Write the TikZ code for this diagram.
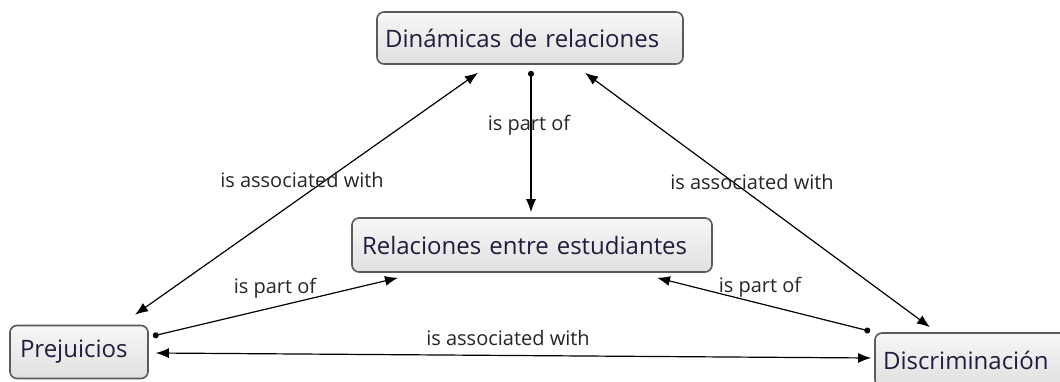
\documentclass[tikz,border=0pt]{standalone}
\usepackage{fontspec}
\setmainfont{Open Sans}
\usetikzlibrary{calc,arrows.meta}
\definecolor{boxline}{HTML}{5A5A5A}
\definecolor{boxtop}{HTML}{F7F7F7}
\definecolor{boxbot}{HTML}{E0E0E0}
\definecolor{txt}{HTML}{1E1E3C}
\tikzset{
  concept/.style={draw=boxline, line width=1.6pt, rounded corners=7pt, top color=boxtop, bottom color=boxbot, text=txt, inner sep=0pt, align=left, font=\fontsize{24}{26}\selectfont},
  lbl/.style={font=\fontsize{20}{22}\selectfont, text=black!85, inner sep=1pt},
  link/.style={line width=1.2pt, black},
  darr/.style={{Latex[length=13pt,width=10pt]}-{Latex[length=13pt,width=10pt]}},
  dotarr/.style={{Circle[length=6pt]}-{Latex[length=13pt,width=10pt]}}
}
\begin{document}
\begin{tikzpicture}[x=1pt,y=-1pt]
\clip (0,0) rectangle (1060,381);
\fill[white] (0,0) rectangle (1060,381);
\node[concept, minimum width=306pt, minimum height=52pt, text width=290pt] (dyn) at (530,38) {Dinámicas de relaciones};
\node[concept, minimum width=360pt, minimum height=54pt, text width=340pt] (rel) at (532,245) {Relaciones entre estudiantes};
\node[concept, minimum width=138pt, minimum height=53pt, text width=118pt] (prej) at (79,352) {Prejuicios};
\node[concept, minimum width=200pt, minimum height=54pt, text width=184pt] (disc) at (975,360) {Discriminación};

\draw[link,darr] ($(dyn.south)+(-52,8)$) -- ($(prej.north)+(56,-10)$);
\draw[link,dotarr] ($(dyn.south)+(1,6)$) -- ($(rel.north)+(-1,-5)$);
\draw[link,darr] ($(dyn.south)+(55,8)$) -- ($(disc.north)+(-45,-5)$);
\draw[link,dotarr] ($(prej.east)+(4,-16)$) -- ($(rel.south)+(-134,5)$);
\draw[link,dotarr] ($(disc.north west)+(-4,-1)$) -- ($(rel.south)+(125,5)$);
\draw[link,darr] ($(prej.east)+(7,1)$) -- ($(disc.west)+(-3,-2)$);

\node[lbl] (l1) at (302,180) {is associated with};
\node[lbl] (l2) at (529,125) {is part of};
\node[lbl] (l3) at (752,182) {is associated with};
\node[lbl] (l4) at (275,288) {is part of};
\node[lbl] (l5) at (760,287) {is part of};
\node[lbl] (l6) at (508,338) {is associated with};
\end{tikzpicture}
\end{document}
